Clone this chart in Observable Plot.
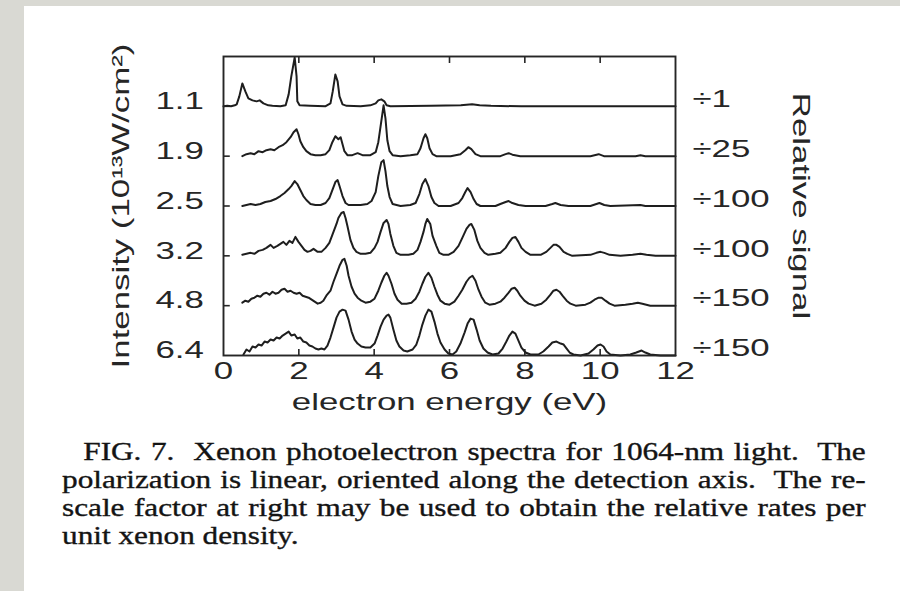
<!DOCTYPE html>
<html>
<head>
<meta charset="utf-8">
<script src="https://cdn.jsdelivr.net/npm/d3@7"></script>
<script src="https://cdn.jsdelivr.net/npm/@observablehq/plot@0.6"></script>
<style>
  html, body { margin: 0; padding: 0; width: 900px; height: 591px; overflow: hidden; background: #d9d9d3; }
  #page { position: absolute; left: 24px; top: 6px; right: 0; bottom: 0; background: #fff; }
  #chart { position: absolute; left: 0; top: 0; }
  #caption {
    position: absolute; left: 62px; top: 438px; width: 643px;
    transform: scaleX(1.25); transform-origin: 0 0;
    font-family: "Liberation Serif", "Times New Roman", serif; font-size: 25px; line-height: 28px;
    color: #141414; -webkit-text-stroke: 0.35px #141414;
  }
  #caption div { white-space: nowrap; text-align: justify; text-align-last: justify; }
  #caption div.first { padding-left: 17px; }
  #caption div.last { text-align-last: left; }
</style>
</head>
<body>
<div id="page"></div>
<div id="chart"></div>
<div id="caption">
  <div class="first">FIG. 7.&nbsp; Xenon photoelectron spectra for 1064-nm light.&nbsp; The</div>
  <div>polarization is linear, oriented along the detection axis.&nbsp; The re-</div>
  <div>scale factor at right may be used to obtain the relative rates per</div>
  <div class="last">unit xenon density.</div>
</div>
<script>
// Laser intensity of each spectrum (10^13 W/cm^2), top to bottom
const intensities = ["1.1", "1.9", "2.5", "3.2", "4.8", "6.4"];
// Rescale divisor applied to each spectrum
const rescales = [1, 25, 100, 100, 150, 150];
// Electron-energy ticks (eV)
const energyTicks = [0, 2, 4, 6, 8, 10, 12];

// Spectra as [electron energy (eV), signal (arb. units)]
const spectrum11 = [
  [0.00, 0], [0.10, 0.5], [0.20, 0], [0.30, 1], [0.35, 2], [0.42, 10], [0.50, 23], [0.58, 15],
  [0.66, 8], [0.77, 6], [0.88, 5], [0.96, 6], [1.06, 3], [1.19, 1], [1.30, 0.5], [1.51, 0],
  [1.65, 1], [1.73, 12], [1.80, 30], [1.89, 49], [1.94, 30], [1.96, 5], [2.02, 1], [2.30, 0.5],
  [2.70, 0], [2.84, 3], [2.90, 15], [2.97, 32], [3.03, 25], [3.08, 10], [3.16, 2], [3.27, 0.5],
  [3.64, 0], [3.90, 1], [4.04, 3], [4.11, 6], [4.19, 7], [4.27, 5], [4.33, 1], [4.43, 0],
  [5.50, 0.5], [6.30, 1], [6.60, 2], [6.80, 1], [7.10, 0.5], [7.90, 0], [10.0, 0], [12.0, 0]
];
const spectrum19 = [
  [0.50, 0], [0.61, 2], [0.72, 3], [0.82, 2], [0.93, 5], [1.04, 4], [1.14, 6], [1.25, 7],
  [1.35, 6], [1.46, 9], [1.57, 11], [1.67, 14], [1.78, 19], [1.86, 24], [1.94, 27], [1.99, 22],
  [2.04, 15], [2.12, 9], [2.20, 5], [2.31, 2], [2.44, 1], [2.58, 1], [2.71, 2], [2.81, 6],
  [2.89, 14], [2.97, 20], [3.05, 17], [3.11, 19], [3.16, 12], [3.21, 5], [3.29, 1], [3.42, 1],
  [3.56, 3], [3.69, 1], [3.90, 1], [4.04, 4], [4.11, 14], [4.17, 30], [4.25, 51], [4.30, 38],
  [4.35, 16], [4.41, 5], [4.49, 1], [4.70, 0], [4.96, 1], [5.15, 2], [5.23, 8], [5.31, 18],
  [5.36, 22], [5.41, 18], [5.47, 8], [5.55, 2], [5.65, 0], [6.03, 0], [6.29, 2], [6.42, 6],
  [6.50, 9], [6.58, 7], [6.69, 2], [6.82, 0], [7.35, 0], [7.49, 2], [7.57, 3], [7.67, 1.5],
  [7.88, 0], [9.74, 0], [9.96, 2], [10.10, 0], [10.94, 0], [11.07, 1], [11.20, 0], [12.0, 0]
];
const spectrum25 = [
  [0.50, 0], [0.61, 1], [0.72, 2], [0.85, 1], [0.98, 2], [1.11, 4], [1.25, 5], [1.38, 7],
  [1.51, 10], [1.62, 13], [1.73, 17], [1.80, 20], [1.89, 25], [1.96, 22], [2.04, 16], [2.12, 10],
  [2.20, 6], [2.31, 2], [2.44, 1], [2.58, 1], [2.71, 3], [2.81, 8], [2.89, 16], [2.97, 24],
  [3.03, 26], [3.08, 20], [3.16, 10], [3.24, 3], [3.32, 1], [3.64, 1], [3.82, 2], [3.93, 5],
  [4.04, 14], [4.11, 30], [4.19, 44], [4.25, 46], [4.30, 35], [4.35, 20], [4.41, 9], [4.49, 2],
  [4.70, 0], [4.96, 1], [5.10, 3], [5.20, 12], [5.28, 22], [5.36, 27], [5.44, 20], [5.52, 9],
  [5.60, 3], [5.71, 0], [6.03, 0], [6.24, 3], [6.34, 8], [6.42, 14], [6.48, 18], [6.56, 14],
  [6.64, 7], [6.72, 2], [6.82, 0], [7.22, 0], [7.35, 2], [7.49, 4], [7.57, 5], [7.67, 3],
  [7.83, 1], [8.02, 0], [8.55, 0], [8.73, 2], [8.81, 3], [8.95, 1], [9.16, 0], [9.74, 0],
  [9.90, 2], [9.98, 3], [10.11, 1], [10.27, 0], [11.07, 1], [11.20, 0], [12.0, 0]
];
const spectrum32 = [
  [0.50, 1], [0.61, 2], [0.72, 3], [0.82, 2], [0.93, 5], [1.04, 6], [1.14, 8], [1.25, 11],
  [1.33, 8], [1.43, 10], [1.51, 12], [1.59, 14], [1.67, 11], [1.75, 15], [1.83, 13], [1.91, 19],
  [1.99, 14], [2.07, 10], [2.15, 6], [2.23, 4], [2.31, 5], [2.39, 7], [2.50, 4], [2.60, 4],
  [2.71, 8], [2.81, 13], [2.92, 24], [3.00, 32], [3.05, 38], [3.13, 43], [3.19, 44], [3.24, 38],
  [3.29, 30], [3.37, 16], [3.45, 8], [3.53, 4], [3.64, 2], [3.77, 2], [3.90, 3], [4.01, 8],
  [4.09, 14], [4.17, 24], [4.25, 33], [4.33, 36], [4.38, 32], [4.43, 22], [4.51, 10], [4.59, 3],
  [4.70, 1], [4.91, 1], [5.04, 2], [5.15, 6], [5.23, 14], [5.31, 24], [5.36, 32], [5.41, 37],
  [5.49, 32], [5.55, 20], [5.65, 10], [5.73, 3], [5.84, 1], [5.97, 1], [6.11, 4], [6.24, 10],
  [6.34, 18], [6.45, 27], [6.53, 31], [6.58, 32], [6.66, 26], [6.74, 15], [6.82, 8], [6.93, 3],
  [7.03, 1], [7.22, 2], [7.35, 3], [7.49, 8], [7.59, 14], [7.67, 18], [7.75, 19], [7.83, 14],
  [7.91, 8], [8.02, 4], [8.15, 1], [8.42, 1], [8.57, 4], [8.68, 8], [8.76, 11], [8.84, 11],
  [8.92, 9], [9.03, 4], [9.13, 2], [9.26, 0], [9.74, 1], [9.90, 3], [10.01, 4], [10.11, 3],
  [10.25, 1], [10.54, 0], [10.86, 1], [11.07, 2], [11.23, 1], [11.47, 0], [12.0, 0]
];
const spectrum48 = [
  [0.50, 3], [0.58, 5], [0.66, 4], [0.74, 7], [0.82, 8], [0.90, 10], [0.98, 9], [1.06, 12],
  [1.14, 13], [1.22, 11], [1.30, 14], [1.38, 12], [1.46, 13], [1.54, 16], [1.62, 17], [1.70, 14],
  [1.78, 15], [1.86, 13], [1.94, 12], [2.02, 13], [2.10, 10], [2.18, 9], [2.26, 8], [2.34, 6],
  [2.42, 4], [2.50, 2], [2.58, 3], [2.65, 5], [2.73, 10], [2.84, 15], [2.92, 24], [3.00, 32],
  [3.08, 40], [3.16, 46], [3.21, 47], [3.27, 40], [3.32, 30], [3.40, 19], [3.48, 12], [3.56, 8],
  [3.66, 5], [3.77, 3], [3.90, 4], [4.01, 7], [4.11, 15], [4.19, 23], [4.27, 30], [4.33, 33],
  [4.38, 30], [4.46, 22], [4.54, 12], [4.62, 6], [4.73, 2], [4.86, 2], [4.99, 3], [5.10, 7],
  [5.20, 14], [5.28, 22], [5.36, 29], [5.44, 33], [5.52, 28], [5.60, 19], [5.68, 11], [5.76, 5],
  [5.87, 2], [6.00, 1], [6.13, 4], [6.24, 10], [6.34, 16], [6.45, 24], [6.53, 28], [6.61, 30],
  [6.69, 25], [6.77, 16], [6.85, 9], [6.95, 3], [7.06, 1], [7.22, 2], [7.35, 4], [7.46, 8],
  [7.57, 13], [7.65, 17], [7.73, 18], [7.80, 15], [7.88, 10], [7.99, 5], [8.10, 2], [8.26, 0],
  [8.44, 2], [8.57, 6], [8.68, 11], [8.76, 15], [8.84, 16], [8.92, 14], [9.00, 10], [9.11, 5],
  [9.21, 2], [9.35, 0], [9.61, 1], [9.74, 3], [9.85, 6], [9.96, 8], [10.04, 8], [10.14, 5],
  [10.25, 2], [10.38, 0], [10.67, 1], [10.86, 2], [11.00, 3], [11.12, 2], [11.33, 0], [12.0, 0]
];
const spectrum64 = [
  [0.53, 1], [0.61, 6], [0.69, 4], [0.77, 9], [0.85, 8], [0.93, 11], [1.01, 10], [1.09, 14],
  [1.17, 13], [1.25, 16], [1.33, 15], [1.41, 18], [1.49, 17], [1.57, 20], [1.65, 22], [1.73, 24],
  [1.80, 20], [1.89, 21], [1.96, 17], [2.04, 18], [2.12, 14], [2.20, 13], [2.28, 10], [2.36, 9],
  [2.44, 7], [2.52, 6], [2.60, 7], [2.68, 6], [2.76, 10], [2.84, 18], [2.92, 28], [3.00, 38],
  [3.08, 44], [3.16, 46], [3.24, 45], [3.32, 36], [3.40, 24], [3.48, 16], [3.56, 12], [3.66, 9],
  [3.77, 8], [3.90, 8], [4.01, 12], [4.09, 20], [4.17, 29], [4.25, 36], [4.33, 40], [4.38, 41],
  [4.43, 38], [4.51, 26], [4.59, 15], [4.67, 9], [4.78, 5], [4.88, 4], [5.02, 6], [5.12, 11],
  [5.20, 20], [5.28, 31], [5.36, 40], [5.44, 46], [5.52, 44], [5.60, 34], [5.68, 22], [5.76, 13],
  [5.87, 6], [5.97, 2], [6.08, 1], [6.18, 4], [6.29, 12], [6.40, 23], [6.48, 32], [6.56, 37],
  [6.64, 36], [6.72, 26], [6.80, 15], [6.90, 7], [7.01, 3], [7.14, 1], [7.30, 2], [7.41, 7],
  [7.51, 14], [7.59, 20], [7.67, 24], [7.75, 22], [7.83, 15], [7.91, 8], [8.02, 3], [8.15, 1],
  [8.36, 1], [8.49, 4], [8.63, 9], [8.73, 13], [8.84, 14], [8.95, 12], [9.03, 11], [9.11, 7],
  [9.19, 3], [9.29, 1], [9.48, 0], [9.69, 2], [9.82, 6], [9.93, 10], [10.01, 11], [10.09, 9],
  [10.17, 4], [10.27, 1], [10.54, 0], [10.80, 1], [10.96, 3], [11.10, 5], [11.20, 3], [11.33, 1],
  [11.60, 0], [12.0, 0]
];
const spectra = [spectrum11, spectrum19, spectrum25, spectrum32, spectrum48, spectrum64];

// Each spectrum is stacked above the next one by a constant offset
const offsetStep = 50;
const rows = intensities.map((label, i) => ({
  label,
  rescale: rescales[i],
  offset: (intensities.length - 1 - i) * offsetStep
}));
const points = rows.flatMap((r, i) =>
  spectra[i].map(([energy, signal]) => ({label: r.label, energy, y: r.offset + signal}))
);
const innerTicks = energyTicks.slice(1, -1);
const yTop = rows.length * offsetStep;

const ink = "#262626";
const font = "'Liberation Sans', Arial, Helvetica, sans-serif";
const textOpts = {fill: ink, fontSize: 24, fontFamily: font};

const chart = Plot.plot({
  width: 900,
  height: 430,
  marginLeft: 223,
  marginRight: 225,
  marginTop: 56,
  marginBottom: 75,
  style: {background: "transparent", color: ink},
  x: {domain: [0, 12], axis: null},
  y: {domain: [0, yTop], axis: null},
  marks: [
    // inward ticks on the bottom and top edges
    Plot.ruleX(innerTicks, {x: d => d, y1: 0, y2: 6, stroke: ink, strokeWidth: 1.6}),
    Plot.ruleX(innerTicks, {x: d => d, y1: yTop, y2: yTop - 7, stroke: ink, strokeWidth: 1.6}),
    // inward ticks at each spectrum's baseline on the left edge
    Plot.ruleY(rows.slice(0, -1), {y: "offset", x1: 0, x2: 0.18, stroke: ink, strokeWidth: 1.6}),
    Plot.line(points, {x: "energy", y: "y", z: "label", stroke: "#1e1e1e", strokeWidth: 2, strokeLinejoin: "round"}),
    Plot.frame({stroke: ink, strokeWidth: 1.9}),
    // energy tick labels
    Plot.text(energyTicks, {x: d => d, text: d => String(d), frameAnchor: "bottom", dy: 23, ...textOpts}),
    Plot.text(["electron energy (eV)"], {frameAnchor: "bottom", dy: 54, ...textOpts}),
    // intensity labels on the left, rescale factors on the right
    Plot.text(rows, {y: "offset", text: "label", frameAnchor: "left", dx: -68, dy: -5, textAnchor: "start", ...textOpts}),
    Plot.text(rows, {y: "offset", text: d => "÷" + d.rescale, frameAnchor: "right", dx: 17, dy: -7, textAnchor: "start", ...textOpts}),
    Plot.text(["Intensity (10¹³W/cm²)"], {frameAnchor: "left", dx: -102, rotate: -90, textAnchor: "middle", ...textOpts}),
    Plot.text(["Relative signal"], {frameAnchor: "right", dx: 125, rotate: 90, textAnchor: "middle", ...textOpts})
  ]
});
document.getElementById("chart").appendChild(chart);

// the lettering of this figure is a wide sans; widen each label along its baseline
const widen = 1.45;
chart.querySelectorAll("text").forEach(t => {
  const w = t.getComputedTextLength();
  t.setAttribute("textLength", (w * widen).toFixed(1));
  t.setAttribute("lengthAdjust", "spacingAndGlyphs");
});
</script>
</body>
</html>
